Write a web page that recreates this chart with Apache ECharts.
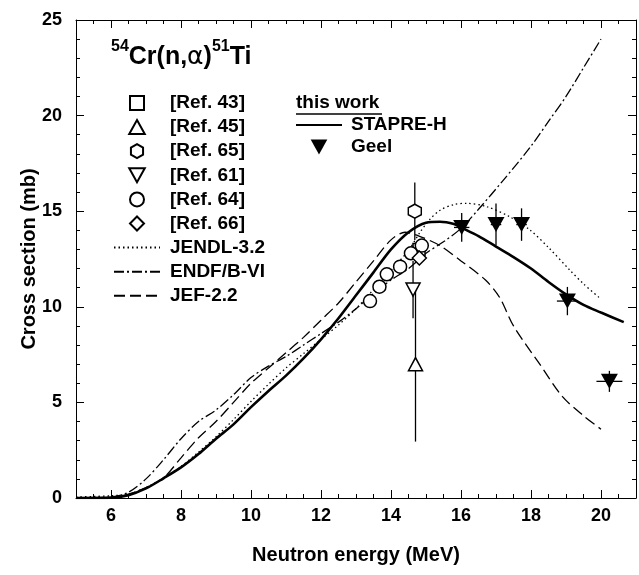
<!DOCTYPE html>
<html>
<head>
<meta charset="utf-8">
<script src="https://cdn.jsdelivr.net/npm/echarts@6/dist/echarts.min.js"></script>
<style>
  html, body { margin: 0; padding: 0; background: #fff; }
  #chart { width: 639px; height: 575px; }
</style>
</head>
<body>
<div id="chart"></div>
<script>
// tick labels
const xMajorTicks = [6, 8, 10, 12, 14, 16, 18, 20];

// evaluations / calculation (energy in MeV, cross section in mb)
const stapreE  = [5, 6, 6.5, 7, 7.5, 8, 8.5, 9, 9.5, 10, 10.5, 11, 11.5, 12, 12.5, 13, 13.5, 14, 14.5, 15, 15.4, 15.8, 16, 16.5, 17, 17.5, 18, 18.5, 19, 19.5, 20, 20.65];
const stapreXS = [0, 0.02, 0.15, 0.5, 1.03, 1.6, 2.3, 3.1, 3.85, 4.75, 5.6, 6.4, 7.3, 8.3, 9.4, 10.6, 11.8, 13.0, 13.9, 14.4, 14.45, 14.33, 14.15, 13.7, 13.15, 12.6, 12.0, 11.3, 10.65, 10.1, 9.7, 9.2];

const jendlE  = [5, 5.5, 6, 6.5, 7, 7.5, 8, 8.5, 9, 9.5, 10, 10.5, 11, 11.5, 12, 12.5, 13, 13.5, 14, 14.5, 14.83, 15.1, 15.4, 15.8, 16.16, 16.73, 17.4, 17.97, 18.5, 19.11, 19.5, 20];
const jendlXS = [0.05, 0.08, 0.12, 0.2, 0.55, 1.05, 1.65, 2.4, 3.2, 4.1, 5.05, 5.95, 6.8, 7.55, 8.3, 9.05, 9.9, 10.9, 11.9, 12.95, 13.9, 14.55, 15.05, 15.35, 15.41, 15.24, 14.7, 14.02, 13.1, 11.92, 11.2, 10.4];

const endfE  = [5, 6, 6.5, 7, 7.5, 8, 8.5, 9, 9.5, 10, 10.5, 11, 11.5, 12, 12.5, 13, 13.5, 14, 14.5, 15, 15.5, 16, 16.5, 17.2, 18, 18.5, 19, 19.5, 20];
const endfXS = [0, 0.05, 0.3, 1.0, 2.0, 3.1, 4.0, 4.6, 5.4, 6.3, 6.9, 7.4, 8.0, 8.6, 9.2, 9.9, 10.7, 11.4, 12.0, 12.8, 13.4, 14.1, 15.1, 16.6, 18.4, 19.7, 21.0, 22.5, 24.0];

const jefE  = [5, 6, 6.5, 7, 7.5, 8, 8.5, 9, 9.5, 10, 10.5, 11, 11.5, 12, 12.5, 13, 13.5, 14, 14.4, 14.8, 15.4, 16, 16.7, 17.1, 17.5, 18.25, 18.9, 19.5, 20];
const jefXS = [0, 0.02, 0.2, 0.55, 1.05, 2.1, 3.15, 4.0, 5.0, 6.0, 6.8, 7.6, 8.4, 9.3, 10.2, 11.3, 12.4, 13.5, 13.9, 13.7, 13.2, 12.4, 11.4, 10.5, 9.0, 7.0, 5.3, 4.3, 3.6];

// measurements: [energy, xs, dxs]
const ref43 = [[14.8, 13.0, 0]];
const ref45 = [[14.7, 7.0, 4.05]];
const ref65 = [[14.68, 15.0, 1.5]];
const ref61 = [[14.63, 10.9, 1.5]];
const ref64 = [[13.4, 10.3, 0], [13.67, 11.05, 0], [13.88, 11.7, 0], [14.26, 12.1, 0], [14.57, 12.8, 0], [14.88, 13.2, 0]];
const ref66 = [[14.81, 12.55, 0]];
// this work, Geel: [energy, xs, dxs, dE]
const geel = [[16.02, 14.15, 0.75, 0.22], [17.0, 14.3, 1.1, 0.15], [17.73, 14.3, 0.85, 0.15], [19.04, 10.3, 0.74, 0.3], [20.24, 6.1, 0.55, 0.37]];

const FONT = '"Liberation Sans", Arial, sans-serif';
const pairs = (xs, ys) => xs.map((x, i) => [x, ys[i]]);

const squarePath = 'path://M0,0 L10,0 L10,10 L0,10 Z';
const hexPath = 'path://M5,0 L9.33,2.5 L9.33,7.5 L5,10 L0.67,7.5 L0.67,2.5 Z';
const downTri = 'path://M0,0 L10,0 L5,9 Z';
const upTri = 'path://M5,0 L10,9 L0,9 Z';
const diamondPath = 'path://M5,0 L10,5 L5,10 L0,5 Z';

function openScatter(name, data, symbol, size) {
  return {
    type: 'scatter',
    name: name,
    data: data.map(d => [d[0], d[1]]),
    symbol: symbol,
    symbolSize: size,
    itemStyle: { color: '#fff', borderColor: '#000', borderWidth: 1.5, opacity: 1 },
    z: 5,
  };
}

function errorBars(name, data) {
  return {
    type: 'custom',
    name: name,
    data: data,
    encode: { x: 0, y: 1 },
    silent: true,
    z: 4,
    renderItem(params, api) {
      const x = api.value(0);
      const y = api.value(1);
      const dy = api.value(2) || 0;
      const dx = api.value(3) || 0;
      const children = [];
      if (dy > 0) {
        const a = api.coord([x, y + dy]);
        const b = api.coord([x, y - dy]);
        children.push({ type: 'line', shape: { x1: a[0], y1: a[1], x2: b[0], y2: b[1] }, style: { stroke: '#000', lineWidth: 1.3 } });
      }
      if (dx > 0) {
        const a = api.coord([x - dx, y]);
        const b = api.coord([x + dx, y]);
        children.push({ type: 'line', shape: { x1: a[0], y1: a[1], x2: b[0], y2: b[1] }, style: { stroke: '#000', lineWidth: 1.3 } });
      }
      return { type: 'group', children: children };
    },
  };
}

function curve(name, xs, ys, width, type) {
  return {
    type: 'line',
    name: name,
    data: pairs(xs, ys),
    smooth: 0.3,
    symbol: 'none',
    lineStyle: { color: '#000', width: width, type: type },
    itemStyle: { color: '#000' },
    z: 3,
  };
}

// line-only legend entries (hide the default marker of line series)
const lineEntry = name => ({ name: name, itemStyle: { opacity: 0, color: 'rgba(0,0,0,0)', borderWidth: 0 } });

const chart = echarts.init(document.getElementById('chart'));

const tickLine = { color: '#000', width: 1 };
const xBase = { type: 'value', min: 5, max: 21, splitLine: { show: false } };
const yBase = { type: 'value', min: 0, max: 25, interval: 5, splitLine: { show: false } };

const option = {
  animation: false,
  textStyle: { fontFamily: FONT },
  grid: { left: 76, right: 3, top: 20, bottom: 77 },
  xAxis: [
    {
      ...xBase, position: 'bottom', interval: 0.5,
      axisLine: { lineStyle: tickLine },
      axisTick: { inside: true, length: 4, lineStyle: tickLine },
      axisLabel: { customValues: xMajorTicks, color: '#000', fontSize: 18, fontWeight: 'bold', fontFamily: FONT, margin: 9 },
      name: 'Neutron energy (MeV)', nameLocation: 'middle', nameGap: 47, nameMoveOverlap: false,
      nameTextStyle: { color: '#000', fontSize: 20, fontWeight: 'bold', fontFamily: FONT },
    },
    {
      ...xBase, position: 'bottom',
      axisLine: { show: false },
      axisTick: { inside: true, length: 8, customValues: xMajorTicks, lineStyle: tickLine },
      axisLabel: { show: false },
    },
    {
      ...xBase, position: 'top', interval: 0.5,
      axisLine: { lineStyle: tickLine },
      axisTick: { inside: true, length: 4, lineStyle: tickLine },
      axisLabel: { show: false },
    },
    {
      ...xBase, position: 'top',
      axisLine: { show: false },
      axisTick: { inside: true, length: 8, customValues: xMajorTicks, lineStyle: tickLine },
      axisLabel: { show: false },
    },
  ],
  yAxis: [
    {
      ...yBase, position: 'left',
      axisLine: { lineStyle: tickLine },
      axisTick: { inside: true, length: 8, lineStyle: tickLine },
      minorTick: { show: true, splitNumber: 5, length: 4, lineStyle: tickLine },
      axisLabel: { color: '#000', fontSize: 18, fontWeight: 'bold', fontFamily: FONT, margin: 14 },
      name: 'Cross section (mb)', nameLocation: 'middle', nameGap: 37, nameMoveOverlap: false,
      nameTextStyle: { color: '#000', fontSize: 20, fontWeight: 'bold', fontFamily: FONT },
    },
    {
      ...yBase, position: 'right',
      axisLine: { lineStyle: tickLine },
      axisTick: { inside: true, length: 8, lineStyle: tickLine },
      minorTick: { show: true, splitNumber: 5, length: 4, lineStyle: tickLine },
      axisLabel: { show: false },
    },
  ],
  legend: [
    {
      orient: 'vertical', left: 108, top: 88,
      itemWidth: 46, itemHeight: 14, itemGap: 4.1,
      selectedMode: false,
      textStyle: { color: '#000', fontSize: 19, fontWeight: 'bold', fontFamily: FONT, lineHeight: 20, padding: [0, 0, 0, 5] },
      data: ['[Ref. 43]', '[Ref. 45]', '[Ref. 65]', '[Ref. 61]', '[Ref. 64]', '[Ref. 66]',
        lineEntry('JENDL-3.2'), lineEntry('ENDF/B-VI'), lineEntry('JEF-2.2')],
    },
    {
      orient: 'vertical', left: 290, top: 110,
      itemWidth: 46, itemHeight: 15, itemGap: 2,
      selectedMode: false,
      textStyle: { color: '#000', fontSize: 19, fontWeight: 'bold', fontFamily: FONT, lineHeight: 20, padding: [0, 0, 0, 4] },
      data: [lineEntry('STAPRE-H'), 'Geel'],
    },
  ],
  graphic: [
    {
      type: 'text', left: 111, top: 39, z: 10,
      style: {
        text: '{s|54}{m|Cr(n,}{g|α}{m|)}{s|51}{m|Ti}',
        rich: {
          m: { fontSize: 25, fontWeight: 'bold', fontFamily: FONT, fill: '#000', lineHeight: 31, verticalAlign: 'bottom' },
          g: { fontSize: 25, fontWeight: 'normal', fontFamily: '"DejaVu Sans", sans-serif', fill: '#000', lineHeight: 31, verticalAlign: 'bottom' },
          s: { fontSize: 16, fontWeight: 'bold', fontFamily: FONT, fill: '#000', lineHeight: 31, verticalAlign: 'top' },
        },
      },
    },
    {
      type: 'text', left: 296, top: 93, z: 10,
      style: { text: 'this work', fontSize: 19, fontWeight: 'bold', fontFamily: FONT, fill: '#000' },
    },
    {
      type: 'line', z: 10,
      shape: { x1: 296, y1: 114, x2: 382, y2: 114 },
      style: { stroke: '#000', lineWidth: 1.5 },
    },
  ],
  series: [
    curve('JENDL-3.2', jendlE, jendlXS, 1.3, [1.5, 3]),
    curve('ENDF/B-VI', endfE, endfXS, 1.3, [10, 3, 2, 3]),
    curve('JEF-2.2', jefE, jefXS, 1.3, [11, 5]),
    curve('STAPRE-H', stapreE, stapreXS, 2.6, 'solid'),
    errorBars('err45', ref45),
    errorBars('err65', ref65),
    errorBars('err61', ref61),
    errorBars('errGeel', geel),
    openScatter('[Ref. 43]', ref43, squarePath, 12),
    openScatter('[Ref. 45]', ref45, upTri, [14, 13]),
    openScatter('[Ref. 65]', ref65, hexPath, [13, 14]),
    openScatter('[Ref. 61]', ref61, downTri, [14, 13]),
    openScatter('[Ref. 64]', ref64, 'circle', 13),
    openScatter('[Ref. 66]', ref66, diamondPath, 14),
    {
      type: 'scatter',
      name: 'Geel',
      data: geel.map(d => [d[0], d[1]]),
      symbol: downTri,
      symbolSize: [17, 15],
      itemStyle: { color: '#000', opacity: 1 },
      z: 6,
    },
  ],
};

chart.setOption(option);
</script>
</body>
</html>
